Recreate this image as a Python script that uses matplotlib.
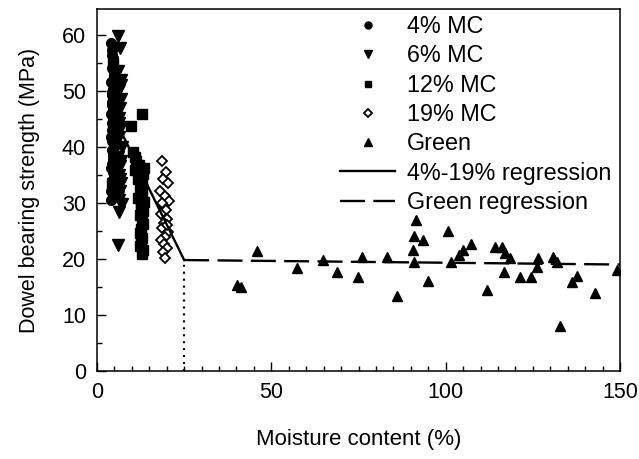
import matplotlib
matplotlib.use('Agg')
import matplotlib.pyplot as plt
from matplotlib.ticker import MultipleLocator

plt.rcParams['font.family'] = ['Liberation Sans', 'DejaVu Sans']
plt.rcParams['lines.scale_dashes'] = False

# 4% MC
mc4_x = [4.0, 4.3, 4.5, 4.2, 4.8, 4.1, 4.6, 4.4, 4.9, 4.3, 4.7, 4.0, 4.5, 4.2, 4.8, 4.6, 4.1, 4.4, 4.9, 4.3,
         4.7, 4.5, 4.2, 4.0, 4.6, 4.8, 4.3, 4.5, 4.1, 4.7, 4.4, 4.9, 4.2, 4.6, 4.3, 4.8, 4.5, 4.0, 4.7, 4.4]
mc4_y = [58.5, 57.2, 55.8, 54.0, 52.6, 51.5, 50.3, 49.2, 48.4, 47.5, 46.8, 45.9, 45.0, 44.2, 43.4, 42.6, 41.8, 41.0, 40.2, 39.4,
         38.5, 37.8, 37.0, 36.2, 35.5, 34.7, 33.9, 33.0, 32.2, 31.2, 56.4, 53.3, 49.8, 46.2, 43.0, 39.9, 36.6, 30.6, 34.0, 48.0]
# 6% MC
mc6_x = [6.1, 6.6, 6.0, 6.8, 6.3, 7.0, 6.5, 6.2, 6.9, 6.4, 7.1, 6.0, 6.7, 6.3, 6.9, 6.5, 6.1, 7.2, 5.9, 6.4,
         6.8, 6.2, 7.0, 6.6, 6.3]
mc6_y = [59.8, 57.6, 53.5, 52.0, 50.2, 48.6, 47.0, 45.2, 43.5, 41.8, 40.0, 38.2, 36.5, 35.0, 33.6, 32.2, 31.0, 29.8, 22.5, 28.4,
         51.0, 44.3, 37.4, 34.2, 30.5]
# 12% MC
mc12_x = [12.9, 9.8, 10.2, 10.8, 11.3, 12.0, 12.6, 13.2, 11.7, 12.4, 13.0, 12.2, 12.8, 13.4, 12.5, 13.1, 12.3, 12.9,
          13.3, 12.6, 12.2, 13.0, 12.7, 12.4, 13.2, 12.8, 12.5, 12.9, 4.5, 5.0, 4.2, 11.0, 11.8, 13.6]
mc12_y = [45.9, 43.7, 39.0, 38.2, 37.5, 36.8, 36.0, 35.2, 34.3, 33.5, 32.7, 31.8, 31.0, 30.2, 29.4, 28.6, 27.8, 27.0,
          26.2, 25.4, 24.6, 23.8, 23.0, 22.3, 21.6, 20.9, 29.9, 33.6, 55.0, 50.0, 33.5, 35.8, 30.8, 36.2]
# 19% MC
mc19_x = [18.5, 19.8, 19.0, 20.3, 18.2, 19.5, 20.6, 18.8, 19.9, 18.4, 20.1, 19.2, 18.7, 20.4, 19.6, 18.3, 19.3, 20.0,
          18.9, 19.4, 18.6, 20.2]
mc19_y = [37.4, 35.6, 34.2, 33.5, 32.1, 31.3, 30.4, 29.5, 28.8, 28.0, 27.2, 26.4, 25.6, 24.8, 24.0, 23.3, 22.6, 21.9,
          21.2, 20.1, 30.0, 26.0]
# green
green_x = [40.1, 41.2, 45.8, 57.3, 64.9, 68.9, 74.8, 76.1, 83.1, 85.9, 90.7, 90.9, 91.5, 90.9, 93.6, 95.0, 100.8,
           101.4, 103.9, 104.9, 107.4, 111.9, 114.1, 116.1, 117.0, 118.4, 116.7, 121.3, 124.4, 126.1, 126.6,
           130.7, 131.8, 136.1, 137.6, 142.8, 149.0, 132.8]
green_y = [15.4, 15.0, 21.5, 18.4, 19.8, 17.6, 16.7, 20.3, 20.4, 13.3, 21.6, 19.5, 27.0, 24.1, 23.3, 16.1, 24.9,
           19.5, 20.7, 21.6, 22.7, 14.5, 22.2, 22.2, 21.0, 20.1, 17.7, 16.7, 16.7, 18.6, 20.1,
           20.4, 19.5, 15.9, 16.9, 14.0, 18.0, 8.0]

# regressions
reg_x = [4, 25]
reg_y = [46.4, 19.8]
greg_x = [25, 150]
greg_y = [19.8, 19.0]
fsp = 25

fig = plt.figure(figsize=(6.39, 4.59), dpi=100)
ax = fig.add_axes([97 / 639, 1 - 371 / 459, 523 / 639, 362 / 459])

ax.plot(mc4_x, mc4_y, 'o', color='black', ms=7, label='4% MC')
ax.plot(mc6_x, mc6_y, 'v', color='black', ms=8, label='6% MC')
ax.plot(mc12_x, mc12_y, 's', color='black', ms=6.5, label='12% MC')
ax.plot(mc19_x, mc19_y, 'D', mfc='white', mec='black', mew=1.3, ms=5.5, label='19% MC')
ax.plot(green_x, green_y, '^', color='black', ms=7.5, label='Green')
ax.plot(reg_x, reg_y, '-', color='black', lw=1.7, label='4%-19% regression')
ax.plot(greg_x, greg_y, color='black', lw=1.7, ls=(0, (18, 6)), label='Green regression')
ax.plot([fsp, fsp], [0, 19.8], color='black', lw=1.6, ls=(0, (1.5, 3.5)))

ax.set_xlim(0, 150)
ax.set_ylim(0, 64.6)
ax.xaxis.set_major_locator(MultipleLocator(50))
ax.xaxis.set_minor_locator(MultipleLocator(5))
ax.yaxis.set_major_locator(MultipleLocator(10))
ax.yaxis.set_minor_locator(MultipleLocator(5))
ax.tick_params(which='both', direction='in', labelsize=15.5, width=1)
ax.tick_params(which='major', length=6.5, pad=8)
ax.tick_params(which='minor', length=3.5)
for s in ax.spines.values():
    s.set_linewidth(1.1)

ax.set_xlabel('Moisture content (%)', fontsize=16, labelpad=19)
ax.set_ylabel('Dowel bearing strength (MPa)', fontsize=15.5, labelpad=16)

ax.legend(loc='upper left', bbox_to_anchor=(0.4646, 0.983), frameon=False, fontsize=16.8, markerscale=0.72,
          borderpad=0, borderaxespad=0, handlelength=2.36, handletextpad=0.51, labelspacing=0.27)

fig.savefig('out.png', dpi=100)
